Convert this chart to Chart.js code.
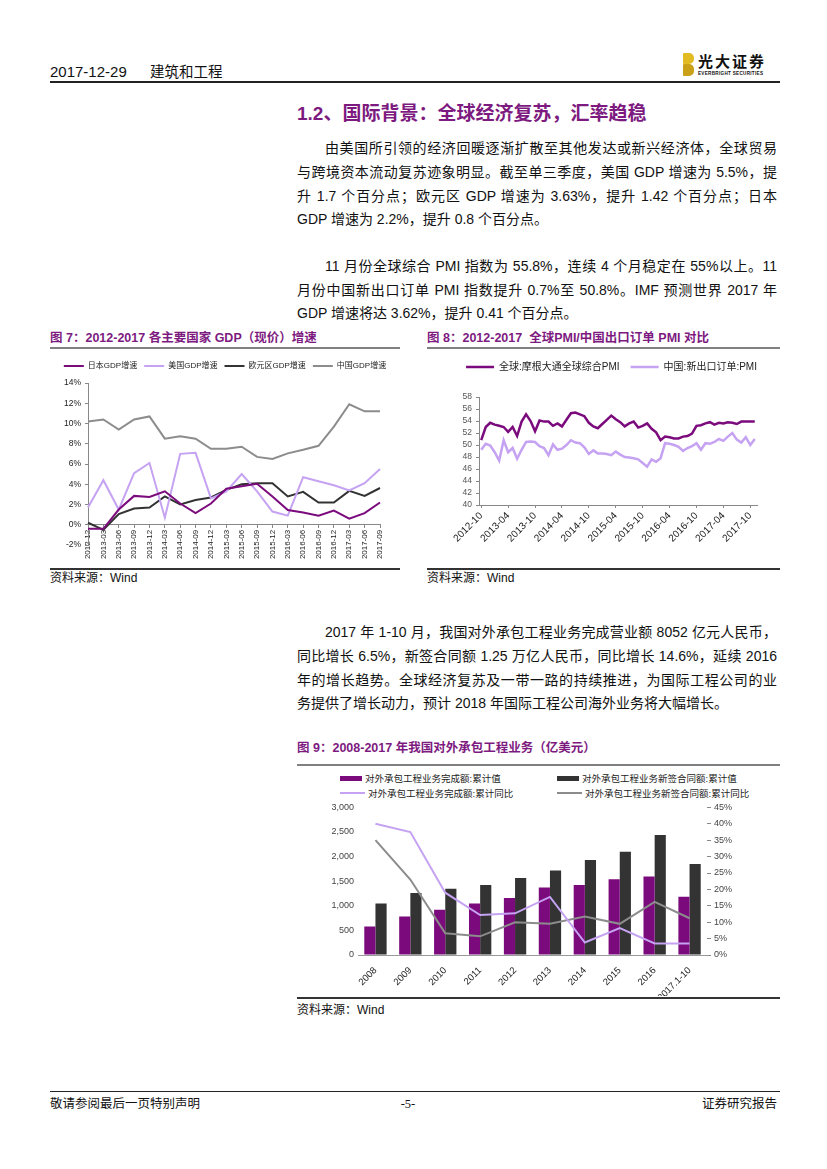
<!DOCTYPE html>
<html lang="zh-CN">
<head>
<meta charset="utf-8">
<title>建筑和工程 2017-12-29</title>
<script src="https://cdn.jsdelivr.net/npm/chart.js@4.4.1/dist/chart.umd.min.js"></script>
<style>
  html, body { margin: 0; padding: 0; background: #fff; }
  body { width: 827px; height: 1169px; position: relative; overflow: hidden;
         font-family: "Liberation Sans", "Noto Sans CJK SC", sans-serif; color: #111; }
  .abs { position: absolute; }
  .hline { position: absolute; }
  .ln { position: absolute; height: 20px; line-height: 20px; font-size: 14px;
        text-align: justify; text-align-last: justify; }
  .ln.last { text-align: left; text-align-last: left; }
  .ftitle { position: absolute; font-size: 12.5px; font-weight: bold; color: #7d1a7f; line-height: 16px; white-space: nowrap; }
  .src { position: absolute; font-size: 12px; line-height: 14px; color: #111; }
  canvas { position: absolute; }
  .lg { position: absolute; font-size: 9.5px; line-height: 12px; color: #222; white-space: nowrap; }
  .lg i { display: inline-block; vertical-align: middle; margin-right: 3px; position: relative; top: -1px; }
</style>
</head>
<body>

<!-- header -->
<div class="abs" style="left:50px;top:63px;font-size:15px;line-height:18px;">2017-12-29</div>
<div class="abs" style="left:150px;top:63px;font-size:14.5px;line-height:18px;">建筑和工程</div>
<div class="abs" style="left:683px;top:53px;width:11px;height:11px;background:#e2bb22;border-radius:1px 5px 5px 1px;"></div>
<div class="abs" style="left:683px;top:64px;width:11px;height:12px;background:#c9a017;border-radius:1px 5px 5px 1px;"></div>
<div class="abs" style="left:698px;top:54px;font-size:15px;font-weight:bold;line-height:16px;letter-spacing:2px;color:#111;">光大证券</div>
<div class="abs" style="left:698px;top:71px;font-size:4.6px;font-weight:bold;line-height:5px;letter-spacing:0.3px;">EVERBRIGHT SECURITIES</div>
<div class="hline" style="left:50px;top:81px;width:730px;height:2px;background:#222;"></div>

<!-- section -->
<div class="abs" style="left:297px;top:102px;font-size:19px;font-weight:bold;line-height:24px;color:#7d1a7f;white-space:nowrap;">1.2、国际背景：全球经济复苏，汇率趋稳</div>

<div class="ln" style="left:325px;width:452px;top:138px;">由美国所引领的经济回暖逐渐扩散至其他发达或新兴经济体，全球贸易</div>
<div class="ln" style="left:297px;width:480px;top:162px;">与跨境资本流动复苏迹象明显。截至单三季度，美国 GDP 增速为 5.5%，提</div>
<div class="ln" style="left:297px;width:480px;top:186px;">升 1.7 个百分点；欧元区 GDP 增速为 3.63%，提升 1.42 个百分点；日本</div>
<div class="ln last" style="left:297px;width:480px;top:209px;">GDP 增速为 2.2%，提升 0.8 个百分点。</div>

<div class="ln" style="left:325px;width:452px;top:256px;">11 月份全球综合 PMI 指数为 55.8%，连续 4 个月稳定在 55%以上。11</div>
<div class="ln" style="left:297px;width:480px;top:280px;">月份中国新出口订单 PMI 指数提升 0.7%至 50.8%。IMF 预测世界 2017 年</div>
<div class="ln last" style="left:297px;width:480px;top:303px;">GDP 增速将达 3.62%，提升 0.41 个百分点。</div>

<!-- figure 7 / 8 -->
<div class="ftitle" style="left:50px;top:330px;">图 7：2012-2017 各主要国家 GDP（现价）增速</div>
<div class="ftitle" style="left:427px;top:330px;">图 8：2012-2017&nbsp; 全球PMI/中国出口订单 PMI 对比</div>
<div class="hline" style="left:50px;top:347px;width:350px;height:2px;background:#808080;"></div>
<div class="hline" style="left:427px;top:347px;width:353px;height:2px;background:#808080;"></div>
<canvas id="grafico-7" width="350" height="216" style="left:50px;top:351px;"></canvas>
<canvas id="grafico-8" width="353" height="216" style="left:427px;top:351px;"></canvas>
<div class="hline" style="left:50px;top:568px;width:350px;height:1.5px;background:#333;"></div>
<div class="hline" style="left:427px;top:568px;width:353px;height:1.5px;background:#333;"></div>
<div class="src" style="left:50px;top:571px;">资料来源：Wind</div>
<div class="src" style="left:427px;top:571px;">资料来源：Wind</div>

<div class="ln" style="left:325px;width:452px;top:622px;">2017 年 1-10 月，我国对外承包工程业务完成营业额 8052 亿元人民币，</div>
<div class="ln" style="left:297px;width:480px;top:646px;">同比增长 6.5%，新签合同额 1.25 万亿人民币，同比增长 14.6%，延续 2016</div>
<div class="ln" style="left:297px;width:480px;top:670px;">年的增长趋势。全球经济复苏及一带一路的持续推进，为国际工程公司的业</div>
<div class="ln last" style="left:297px;width:480px;top:693px;">务提供了增长动力，预计 2018 年国际工程公司海外业务将大幅增长。</div>

<!-- figure 9 -->
<div class="ftitle" style="left:297px;top:740px;">图 9：2008-2017 年我国对外承包工程业务（亿美元）</div>
<div class="hline" style="left:297px;top:764px;width:483px;height:2px;background:#808080;"></div>
<div id="legenda-9"></div>
<canvas id="grafico-9" width="483" height="198" style="left:297px;top:798px;"></canvas>
<div class="hline" style="left:297px;top:997px;width:483px;height:1.5px;background:#333;"></div>
<div class="src" style="left:297px;top:1003px;">资料来源：Wind</div>

<!-- footer -->
<div class="hline" style="left:50px;top:1091px;width:730px;height:1px;background:#222;"></div>
<div class="abs" style="left:50px;top:1096px;font-size:12.5px;line-height:16px;">敬请参阅最后一页特别声明</div>
<div class="abs" style="left:390px;top:1096px;width:36px;text-align:center;font-size:12.5px;line-height:16px;font-family:'Liberation Serif',serif;">-5-</div>
<div class="abs" style="left:600px;top:1096px;width:177px;text-align:right;font-size:12.5px;line-height:16px;">证券研究报告</div>

<script>
// ---- dados do gráfico 7 (GDP trimestral, %) ----
var trimestres = ['2012-12', '2013-03', '2013-06', '2013-09', '2013-12', '2014-03', '2014-06', '2014-09', '2014-12', '2015-03',
                  '2015-06', '2015-09', '2015-12', '2016-03', '2016-06', '2016-09', '2016-12', '2017-03', '2017-06', '2017-09'];
var gdpJapao = [-0.4, -0.4, 1.5, 2.85, 2.75, 3.3, 2.1, 1.15, 2.1, 3.55, 3.8, 4.05, 2.8, 1.45, 1.2, 0.9, 1.4, 0.6, 1.15, 2.2];
var gdpEUA = [1.7, 4.4, 1.5, 5.1, 6.1, 0.7, 7.0, 7.1, 2.6, 3.3, 5.0, 3.3, 1.3, 0.9, 4.7, 4.3, 3.9, 3.4, 4.1, 5.5];
var gdpEuro = [0.2, -0.5, 1.05, 1.6, 1.7, 2.8, 2.0, 2.45, 2.7, 3.45, 4.0, 4.1, 4.1, 2.8, 3.25, 2.2, 2.2, 3.35, 2.85, 3.63];
var gdpChina = [10.2, 10.4, 9.4, 10.4, 10.7, 8.5, 8.75, 8.5, 7.5, 7.5, 7.7, 6.7, 6.5, 7.05, 7.4, 7.8, 9.7, 11.9, 11.2, 11.2];

// ---- dados do gráfico 8 (PMI mensal) ----
var meses = ['2012-10', '2012-11', '2012-12',
  '2013-01', '2013-02', '2013-03', '2013-04', '2013-05', '2013-06', '2013-07', '2013-08', '2013-09', '2013-10', '2013-11', '2013-12',
  '2014-01', '2014-02', '2014-03', '2014-04', '2014-05', '2014-06', '2014-07', '2014-08', '2014-09', '2014-10', '2014-11', '2014-12',
  '2015-01', '2015-02', '2015-03', '2015-04', '2015-05', '2015-06', '2015-07', '2015-08', '2015-09', '2015-10', '2015-11', '2015-12',
  '2016-01', '2016-02', '2016-03', '2016-04', '2016-05', '2016-06', '2016-07', '2016-08', '2016-09', '2016-10', '2016-11', '2016-12',
  '2017-01', '2017-02', '2017-03', '2017-04', '2017-05', '2017-06', '2017-07', '2017-08', '2017-09', '2017-10', '2017-11'];
var pmiGlobal = [50.8, 53.0, 53.7, 53.4, 53.2, 53.0, 52.2, 53.0, 51.5, 53.9,
                 55.1, 54.0, 52.3, 54.1, 53.9, 53.9, 53.2, 53.6, 53.1, 54.2,
                 55.3, 55.4, 55.1, 54.8, 53.7, 53.1, 52.8, 53.5, 54.2, 54.9,
                 54.3, 53.8, 53.1, 53.6, 53.9, 52.9, 53.2, 53.6, 52.7, 52.1,
                 50.8, 51.4, 51.3, 51.1, 51.1, 51.4, 51.5, 51.9, 53.2, 53.3,
                 53.6, 53.8, 53.4, 53.7, 53.6, 53.8, 53.7, 53.5, 53.9, 53.9,
                 53.9, 53.9];
var pmiExportChina = [49.2, 50.2, 49.9, 48.8, 47.4, 50.8, 48.8, 49.5, 47.7, 49.2,
                      50.5, 50.6, 50.5, 49.8, 49.5, 48.3, 50.1, 49.2, 49.4, 50.0,
                      50.8, 50.4, 50.3, 49.6, 48.5, 49.1, 48.6, 48.6, 48.5, 48.3,
                      48.9, 48.4, 48.0, 47.9, 47.8, 47.6, 47.0, 46.4, 47.6, 47.2,
                      47.8, 50.3, 50.2, 50.0, 49.7, 49.0, 49.5, 49.8, 50.3, 49.2,
                      50.3, 50.2, 50.5, 51.0, 50.7, 51.4, 52.0, 50.9, 50.4, 51.3,
                      50.0, 51.0];

// ---- dados do gráfico 9 (亿美元 / %) ----
var anos = ['2008', '2009', '2010', '2011', '2012', '2013', '2014', '2015', '2016', '2017.1-10'];
var concluido = [580, 780, 920, 1045, 1160, 1370, 1425, 1540, 1595, 1185];
var novosContratos = [1045, 1260, 1345, 1425, 1565, 1715, 1930, 2100, 2440, 1850];
var concluidoAA = [40, 37.5, 19, 12.2, 12.7, 17.7, 3.8, 8.2, 3.5, 3.5];
var novosContratosAA = [35, 23, 6.6, 5.7, 10, 9.5, 11.7, 9.5, 16.2, 11.2];

var roxo = '#7b0a7d', lilas = '#c5a2f2', preto = '#333333', cinza = '#8c8c8c';

Chart.defaults.font.family = '"Liberation Sans", "Noto Sans CJK SC", sans-serif';
Chart.defaults.color = '#222';
Chart.defaults.animation = false;
Chart.defaults.responsive = false;
Chart.defaults.devicePixelRatio = 1;
Chart.defaults.plugins.tooltip.enabled = false;

// altura fixa da legenda
function alturaLegenda(h) {
  return {
    id: 'alturaLegenda',
    beforeInit: function(chart) {
      var fitOriginal = chart.legend.fit;
      chart.legend.fit = function() {
        fitOriginal.call(this);
        this.height = h;
      };
    }
  };
}

function linha(label, dados, cor, largura) {
  return { label: label, data: dados, borderColor: cor, backgroundColor: cor,
           borderWidth: largura, pointRadius: 0, tension: 0 };
}

// eixo vazio só para reservar espaço à direita (sem mexer na legenda)
function margemDireita(w) {
  return { type: 'linear', axis: 'y', position: 'right', display: true,
           ticks: { display: false }, grid: { display: false }, border: { display: false },
           afterFit: function(s) { s.width = w; } };
}

// gráfico 7
new Chart(document.getElementById('grafico-7').getContext('2d'), {
  type: 'line',
  data: {
    labels: trimestres,
    datasets: [
      linha('日本GDP增速', gdpJapao, roxo, 2),
      linha('美国GDP增速', gdpEUA, lilas, 2),
      linha('欧元区GDP增速', gdpEuro, preto, 2),
      linha('中国GDP增速', gdpChina, cinza, 2)
    ]
  },
  options: {
    layout: { padding: { left: 0, right: 0, top: 4, bottom: 22 } },
    plugins: {
      legend: {
        labels: { usePointStyle: true, pointStyle: 'line', pointStyleWidth: 20, padding: 7,
                  font: { size: 8 }, color: '#222' }
      }
    },
    scales: {
      x: {
        position: { y: 0 },
        ticks: { autoSkip: false, maxRotation: 90, minRotation: 90, padding: 2, font: { size: 8 } },
        grid: { drawOnChartArea: false, tickLength: 3, color: '#888' },
        border: { color: '#888' }
      },
      y: {
        min: -2, max: 14,
        ticks: { stepSize: 2, autoSkip: false, padding: 4, font: { size: 8.5 }, callback: function(v) { return v + '%'; } },
        grid: { drawOnChartArea: false, tickLength: 3, color: '#888' },
        border: { color: '#888' },
        afterFit: function(s) { s.width = 38; }
      },
      margem: margemDireita(20)
    }
  },
  plugins: [alturaLegenda(28)]
});

// gráfico 8
new Chart(document.getElementById('grafico-8').getContext('2d'), {
  type: 'line',
  data: {
    labels: meses,
    datasets: [
      linha('全球:摩根大通全球综合PMI', pmiGlobal, roxo, 2.5),
      linha('中国:新出口订单:PMI', pmiExportChina, lilas, 2.5)
    ]
  },
  options: {
    layout: { padding: { left: 16, right: 0, top: 0, bottom: 0 } },
    plugins: {
      legend: {
        labels: { usePointStyle: true, pointStyle: 'line', pointStyleWidth: 28, padding: 11,
                  font: { size: 10 }, color: '#222' }
      }
    },
    scales: {
      x: {
        offset: true,
        ticks: { autoSkip: false, maxRotation: 45, minRotation: 45, padding: 2, font: { size: 10 },
                 callback: function(v, i) { return i % 6 === 0 ? meses[i] : null; } },
        grid: { drawOnChartArea: false, tickLength: 3, color: '#888' },
        border: { color: '#888' },
        afterFit: function(s) { s.height = 62; }
      },
      y: {
        min: 40, max: 58,
        ticks: { stepSize: 2, autoSkip: false, padding: 4, font: { size: 8.5 }, color: '#555' },
        grid: { drawOnChartArea: false, tickLength: 3, color: '#888' },
        border: { color: '#888' },
        afterFit: function(s) { s.width = 36; }
      },
      margem: margemDireita(23)
    }
  },
  plugins: [alturaLegenda(46)]
});

// gráfico 9
var grafico9 = new Chart(document.getElementById('grafico-9').getContext('2d'), {
  type: 'bar',
  data: {
    labels: anos,
    datasets: [
      { label: '对外承包工程业务完成额:累计值', data: concluido, backgroundColor: roxo, yAxisID: 'y', order: 2,
        categoryPercentage: 0.64, barPercentage: 1 },
      { label: '对外承包工程业务新签合同额:累计值', data: novosContratos, backgroundColor: preto, yAxisID: 'y', order: 2,
        categoryPercentage: 0.64, barPercentage: 1 },
      Object.assign(linha('对外承包工程业务完成额:累计同比', concluidoAA, lilas, 2), { type: 'line', yAxisID: 'y1', order: 1 }),
      Object.assign(linha('对外承包工程业务新签合同额:累计同比', novosContratosAA, cinza, 2), { type: 'line', yAxisID: 'y1', order: 1 })
    ]
  },
  options: {
    layout: { padding: { left: 0, right: 0, top: 8, bottom: 0 } },
    plugins: { legend: { display: false } },
    scales: {
      x: {
        ticks: { autoSkip: false, maxRotation: 45, minRotation: 45, padding: 2, font: { size: 9.5 } },
        grid: { display: false },
        border: { color: '#999' },
        afterFit: function(s) { s.height = 41; }
      },
      y: {
        min: 0, max: 3000,
        ticks: { stepSize: 500, padding: 4, font: { size: 9 }, color: '#444',
                 callback: function(v) { return v.toLocaleString('en-US'); } },
        grid: { drawOnChartArea: false, drawTicks: false },
        border: { display: false },
        afterFit: function(s) { s.width = 61; }
      },
      y1: {
        position: 'right',
        min: 0, max: 45,
        ticks: { stepSize: 5, padding: 3, font: { size: 9 }, color: '#444',
                 callback: function(v) { return v + '%'; } },
        grid: { drawOnChartArea: false, tickLength: 4, color: '#888' },
        border: { display: false },
        afterFit: function(s) { s.width = 73; }
      }
    }
  }
});

// legenda do gráfico 9 em duas colunas
var posLegenda = [[340, 773], [557, 773], [340, 788], [557, 788]];
grafico9.data.datasets.forEach(function(ds, i) {
  var item = document.createElement('div');
  item.className = 'lg';
  item.style.left = posLegenda[i][0] + 'px';
  item.style.top = posLegenda[i][1] + 'px';
  var marca = document.createElement('i');
  if (ds.type === 'line') {
    marca.style.width = '25px'; marca.style.height = '2px';
  } else {
    marca.style.width = '22px'; marca.style.height = '5px';
  }
  marca.style.background = ds.backgroundColor;
  item.appendChild(marca);
  item.appendChild(document.createTextNode(ds.label));
  document.getElementById('legenda-9').appendChild(item);
});
</script>
</body>
</html>
